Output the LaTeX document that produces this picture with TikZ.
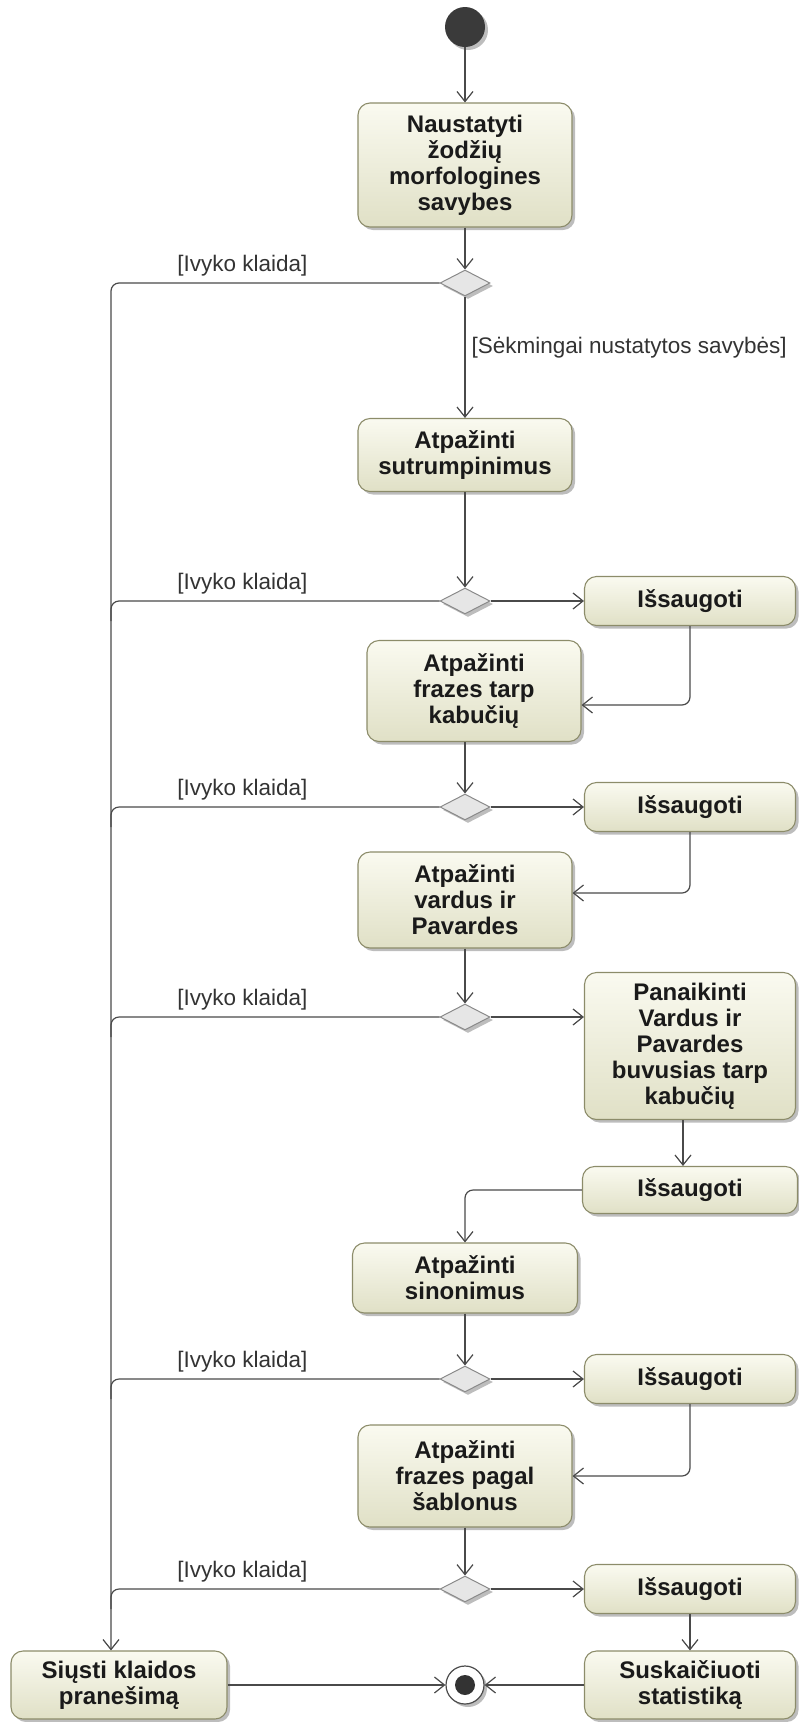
\documentclass[tikz,border=0pt]{standalone}
\usepackage{fontspec}
\setmainfont{Liberation Sans}
\usetikzlibrary{arrows.meta,shapes.geometric,shadows,calc}
\definecolor{boxtop}{HTML}{FAFAF0}
\definecolor{boxbot}{HTML}{E0E0C6}
\definecolor{boxline}{HTML}{8C8C6A}
\definecolor{linecol}{HTML}{4A4A4A}
\definecolor{txtcol}{HTML}{1A1A1A}
\definecolor{dfill}{HTML}{E6E6E6}
\definecolor{dline}{HTML}{8A8A8A}
\definecolor{startcol}{HTML}{3A3A3A}
\begin{document}
\begin{tikzpicture}[x=1pt,y=-1pt,
  shad/.style={drop shadow={shadow xshift=3pt,shadow yshift=-3pt,opacity=.4,fill=black!65}},
  act/.style={rectangle, rounded corners=12pt, draw=boxline, line width=1.1pt,
    top color=boxtop, bottom color=boxbot, shad,
    font=\fontsize{24}{26}\selectfont\bfseries, text=txtcol, align=center, inner sep=0pt},
  dec/.style={diamond, draw=dline, fill=dfill, line width=1pt, minimum width=50pt,
    minimum height=26pt, inner sep=0pt, shad},
  flow/.style={draw=linecol, line width=1.2pt, -{Straight Barb[length=10pt,width=16pt]}},
  plain/.style={draw=linecol, line width=1.2pt},
  lbl/.style={font=\fontsize{22.5}{26}\selectfont, text=black!80, inner sep=2pt},
]
\useasboundingbox (0,0) rectangle (799,1722);

% nodes
\node[circle, fill=startcol, minimum size=40pt, inner sep=0pt, shad] (start) at (465,27) {};
\node[act, minimum width=214pt, minimum height=124pt] (b1) at (465,165)
  {Naustatyti\\žodžių\\morfologines\\savybes};
\node[dec] (d1) at (465,283) {};
\node[act, minimum width=214pt, minimum height=73pt] (b2) at (465,455)
  {Atpažinti\\sutrumpinimus};
\node[dec] (d2) at (465,601) {};
\node[act, minimum width=211pt, minimum height=49pt] (s1) at (690,601) {Išsaugoti};
\node[act, minimum width=214pt, minimum height=101pt] (b3) at (474,691)
  {Atpažinti\\frazes tarp\\kabučių};
\node[dec] (d3) at (465,807) {};
\node[act, minimum width=211pt, minimum height=49pt] (s2) at (690,807) {Išsaugoti};
\node[act, minimum width=214pt, minimum height=96pt] (b4) at (465,900)
  {Atpažinti\\vardus ir\\Pavardes};
\node[dec] (d4) at (465,1017) {};
\node[act, minimum width=211pt, minimum height=147pt] (b5) at (690,1046)
  {Panaikinti\\Vardus ir\\Pavardes\\buvusias tarp\\kabučių};
\node[act, minimum width=215pt, minimum height=47pt] (s3) at (690,1190) {Išsaugoti};
\node[act, minimum width=225pt, minimum height=70pt] (b6) at (465,1278)
  {Atpažinti\\sinonimus};
\node[dec] (d5) at (465,1379) {};
\node[act, minimum width=211pt, minimum height=49pt] (s4) at (690,1379) {Išsaugoti};
\node[act, minimum width=214pt, minimum height=102pt] (b7) at (465,1476)
  {Atpažinti\\frazes pagal\\šablonus};
\node[dec] (d6) at (465,1589) {};
\node[act, minimum width=211pt, minimum height=49pt] (s5) at (690,1589) {Išsaugoti};
\node[act, minimum width=211pt, minimum height=68pt] (s6) at (690,1685)
  {Suskaičiuoti\\statistiką};
\node[act, minimum width=216pt, minimum height=68pt] (e) at (119,1685)
  {Siųsti klaidos\\pranešimą};
\node[circle, draw=black!70, fill=white, line width=1.2pt, minimum size=38pt, inner sep=0pt, shad] (end) at (465,1685) {};
\node[circle, fill=black!80, minimum size=20pt, inner sep=0pt] (endin) at (end) {};

\coordinate (L1) at (111,283);

% main flow
\draw[flow] (start) -- (b1);
\draw[flow] (b1) -- (d1);
\draw[flow] (d1) -- node[lbl, pos=0.42, right, xshift=4pt]{[Sėkmingai nustatytos savybės]} (b2);
\draw[flow] (b2) -- (d2);
\draw[flow] (d2) -- (s1);
\draw[flow, rounded corners=8pt] (s1.south) |- ([yshift=-14pt]b3.east);
\draw[flow] (b3.south -| d3) -- (d3);
\draw[flow] (d3) -- (s2);
\draw[flow, rounded corners=8pt] (s2.south) |- ([yshift=7pt]b4.east);
\draw[flow] (b4) -- (d4);
\draw[flow] (d4) -- (d4 -| b5.west);
\draw[flow] ([xshift=-7pt]b5.south) -- ([xshift=-7pt]b5.south |- s3.north);
\draw[flow, rounded corners=8pt] (s3.west) -| (b6.north);
\draw[flow] (b6) -- (d5);
\draw[flow] (d5) -- (s4);
\draw[flow, rounded corners=8pt] (s4.south) |- (b7.east);
\draw[flow] (b7) -- (d6);
\draw[flow] (d6) -- (s5);
\draw[flow] (s5) -- (s6);
\draw[flow] (e) -- (end);
\draw[flow] (s6) -- (end);

% error branches
\draw[flow, rounded corners=8pt] (d1.west) -- node[lbl, pos=0.6, above, yshift=4pt]{[Ivyko klaida]} (L1) -- (L1 |- e.north);
\foreach \d in {d2,d3,d4,d5,d6}{
  \draw[plain, rounded corners=8pt] (\d.west) -- node[lbl, pos=0.6, above, yshift=4pt]{[Ivyko klaida]} (\d.west -| L1) -- ++(0,20);
}
\end{tikzpicture}
\end{document}
